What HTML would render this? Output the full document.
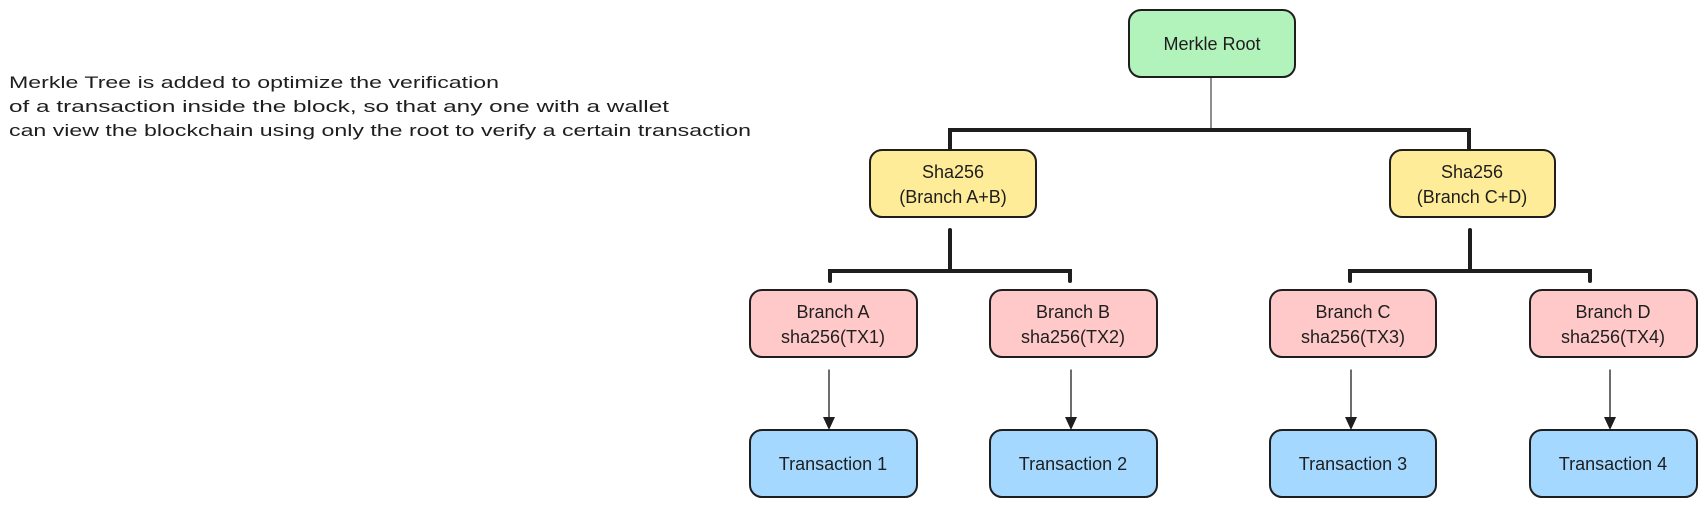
<!DOCTYPE html>
<html><head><meta charset="utf-8"><style>
html,body{margin:0;padding:0;background:#fff;}
svg{display:block}
text{font-family:"Liberation Sans",sans-serif;fill:#1e1e1e}
</style></head><body>
<svg width="1707" height="507" viewBox="0 0 1707 507" xmlns="http://www.w3.org/2000/svg">
<g font-size="17">
<text x="9" y="88" textLength="490" lengthAdjust="spacingAndGlyphs">Merkle Tree is added to optimize the verification</text>
<text x="9" y="112" textLength="660" lengthAdjust="spacingAndGlyphs">of a transaction inside the block, so that any one with a wallet</text>
<text x="9" y="136" textLength="742" lengthAdjust="spacingAndGlyphs">can view the blockchain using only the root to verify a certain transaction</text>
</g>
<g stroke="#1e1e1e" fill="none" stroke-linecap="round">
<line x1="1211" y1="77" x2="1211" y2="130" stroke-width="1"/>
<path d="M950 150 V130 H1469 V150" stroke-width="4"/>
<path d="M950 230 V271 M830 281 V271 H1070 V281" stroke-width="4"/>
<path d="M1470 230 V271 M1350 281 V271 H1590 V281" stroke-width="4"/>
<g stroke-width="1.3">
<line x1="829" y1="370" x2="829" y2="418"/>
<line x1="1071" y1="370" x2="1071" y2="418"/>
<line x1="1351" y1="370" x2="1351" y2="418"/>
<line x1="1610" y1="370" x2="1610" y2="418"/>
</g>
</g>
<g fill="#1e1e1e">
<polygon points="823,417 835,417 829,430"/>
<polygon points="1065,417 1077,417 1071,430"/>
<polygon points="1345,417 1357,417 1351,430"/>
<polygon points="1604,417 1616,417 1610,430"/>
</g>
<g stroke="#1e1e1e" stroke-width="2">
<rect x="1129" y="10" width="166" height="67" rx="12" fill="#b2f2bb"/>
<rect x="870" y="150" width="166" height="67" rx="12" fill="#ffec99"/>
<rect x="1390" y="150" width="165" height="67" rx="12" fill="#ffec99"/>
<rect x="750" y="290" width="167" height="67" rx="12" fill="#ffc9c9"/>
<rect x="990" y="290" width="167" height="67" rx="12" fill="#ffc9c9"/>
<rect x="1270" y="290" width="166" height="67" rx="12" fill="#ffc9c9"/>
<rect x="1530" y="290" width="167" height="67" rx="12" fill="#ffc9c9"/>
<rect x="750" y="430" width="167" height="67" rx="12" fill="#a5d8ff"/>
<rect x="990" y="430" width="167" height="67" rx="12" fill="#a5d8ff"/>
<rect x="1270" y="430" width="166" height="67" rx="12" fill="#a5d8ff"/>
<rect x="1530" y="430" width="167" height="67" rx="12" fill="#a5d8ff"/>
</g>
<g font-size="18" text-anchor="middle">
<text x="1212" y="50">Merkle Root</text>
<text x="953" y="178">Sha256</text><text x="953" y="203">(Branch A+B)</text>
<text x="1472" y="178">Sha256</text><text x="1472" y="203">(Branch C+D)</text>
<text x="833" y="318">Branch A</text><text x="833" y="343">sha256(TX1)</text>
<text x="1073" y="318">Branch B</text><text x="1073" y="343">sha256(TX2)</text>
<text x="1353" y="318">Branch C</text><text x="1353" y="343">sha256(TX3)</text>
<text x="1613" y="318">Branch D</text><text x="1613" y="343">sha256(TX4)</text>
<text x="833" y="470">Transaction 1</text>
<text x="1073" y="470">Transaction 2</text>
<text x="1353" y="470">Transaction 3</text>
<text x="1613" y="470">Transaction 4</text>
</g>
</svg>
</body></html>
